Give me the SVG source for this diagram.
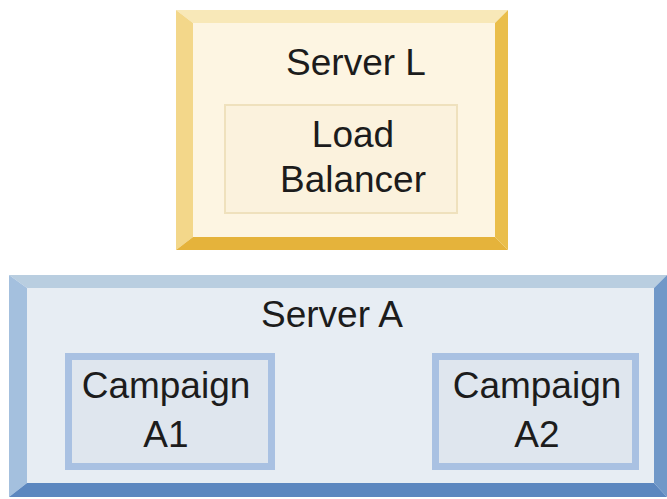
<svg xmlns="http://www.w3.org/2000/svg" width="667" height="499" viewBox="0 0 667 499">
<style>
text{font-family:"Liberation Sans",Arial,sans-serif;font-size:37px;fill:#1c1c1c;text-anchor:middle}
.lt{fill:#f8e8b8}.ll{fill:#f3d78a}.lr{fill:#eabe4b}.lb{fill:#e5b33b}.lf{fill:#fdf5e2}
.at{fill:#b9cee0}.al{fill:#a4c0de}.ar{fill:#7098c8}.ab{fill:#5c87bf}.af{fill:#e7edf3}
.camp{fill:#dfe6ee;stroke:#a9c1e2;stroke-width:7}
</style>
<rect width="667" height="499" fill="#ffffff"/>
<g id="serverL">
<rect class="lf" x="193" y="23" width="302" height="214"/>
<polygon class="lt" points="176,10 508,10 495,23 193,23"/>
<polygon class="ll" points="176,10 193,23 193,237 176,250"/>
<polygon class="lr" points="508,10 508,250 495,237 495,23"/>
<polygon class="lb" points="176,250 193,237 495,237 508,250"/>
<text x="356" y="75">Server L</text>
</g>
<g id="loadBalancer">
<rect x="225" y="105" width="232" height="108" fill="#fbf2dd" stroke="#efe1bd" stroke-width="2"/>
<text x="353" y="147">Load</text>
<text x="353" y="192">Balancer</text>
</g>
<g id="serverA">
<rect class="af" x="27" y="288" width="627" height="195"/>
<polygon class="at" points="9,275 667,275 654,288 27,288"/>
<polygon class="al" points="9,275 27,288 27,483 9,497"/>
<polygon class="ar" points="667,275 667,497 654,483 654,288"/>
<polygon class="ab" points="9,497 27,483 654,483 667,497"/>
<text x="332" y="327">Server A</text>
</g>
<g id="campaignA1">
<rect class="camp" x="68.5" y="356.5" width="203" height="110"/>
<text x="166" y="398">Campaign</text>
<text x="166" y="447">A1</text>
</g>
<g id="campaignA2">
<rect class="camp" x="435.5" y="356.5" width="200" height="110"/>
<text x="537" y="398">Campaign</text>
<text x="537" y="447">A2</text>
</g>
<g id="connectors"/>
</svg>
